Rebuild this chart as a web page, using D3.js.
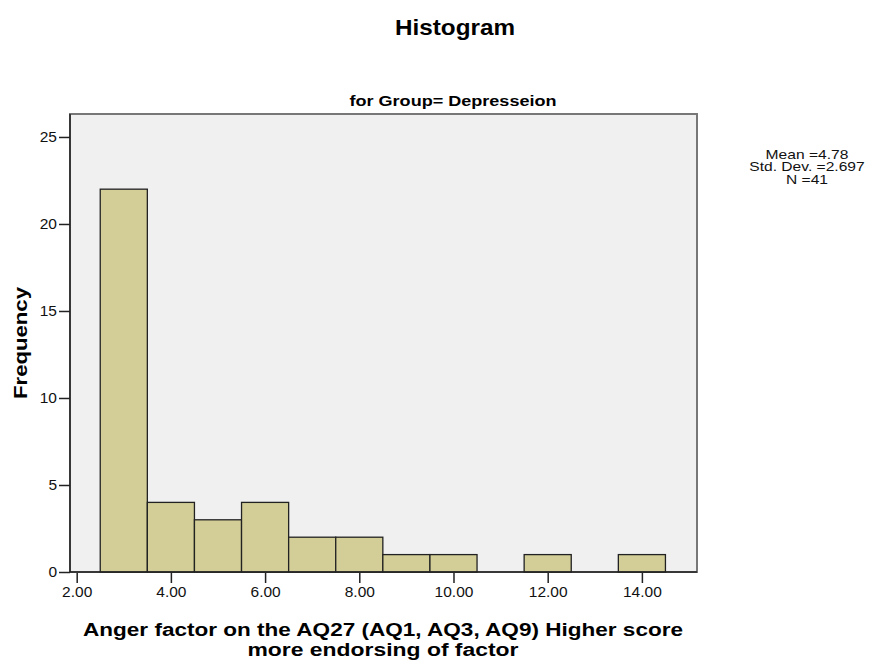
<!DOCTYPE html>
<html><head><meta charset="utf-8">
<script src="https://cdnjs.cloudflare.com/ajax/libs/d3/7.8.5/d3.min.js"></script>
<style>body{margin:0;background:#fff;} text{font-family:"Liberation Sans",Arial,sans-serif;}</style>
</head><body>
<svg id="c" width="872" height="662"></svg>
<script>
const binStarts = [2.5,3.5,4.5,5.5,6.5,7.5,8.5,9.5,10.5,11.5,12.5,13.5];
const frequencies = [22,4,3,4,2,2,1,1,0,1,0,1];
const xTicks = [2,4,6,8,10,12,14];
const yTicks = [0,5,10,15,20,25];
const statsLines = ["Mean =4.78","Std. Dev. =2.697","N =41"];

const svg = d3.select("#c");
const L=70, R=697, T=114, B=572;
const x = d3.scaleLinear().domain([1.858,15.17]).range([L,R]);
const y = d3.scaleLinear().domain([0,26.32]).range([B,T]);

svg.append("rect").attr("x",L).attr("y",T).attr("width",R-L).attr("height",B-T)
  .attr("fill","#f0f0f0").attr("stroke","#777").attr("stroke-width",2);

const bins = frequencies.map((f,i)=>({s:binStarts[i],f})).filter(d=>d.f>0);
svg.append("g").selectAll("rect").data(bins)
  .join("rect")
  .attr("x",d=>x(d.s)).attr("y",d=>y(d.f))
  .attr("width",d=>x(d.s+1)-x(d.s)).attr("height",d=>y(0)-y(d.f))
  .attr("fill","#d3ce98").attr("stroke","#222").attr("stroke-width",1.3);

svg.append("line").attr("x1",L).attr("x2",L).attr("y1",T).attr("y2",B).attr("stroke","#222").attr("stroke-width",1.5);
svg.append("line").attr("x1",L).attr("x2",R).attr("y1",B).attr("y2",B).attr("stroke","#222").attr("stroke-width",1.5);

const yAxis = svg.append("g").attr("transform",`translate(${L},0)`)
  .call(d3.axisLeft(y).tickValues(yTicks).tickSize(11).tickPadding(2).tickFormat(d3.format("d")));
yAxis.attr("font-size",15.5).attr("font-family","Liberation Sans, Arial, sans-serif");
yAxis.select(".domain").remove();
yAxis.selectAll("line").attr("stroke","#222").attr("stroke-width",1.5);
yAxis.selectAll("text").attr("fill","#111");

const xAxis = svg.append("g").attr("transform",`translate(0,${B+1})`)
  .call(d3.axisBottom(x).tickValues(xTicks).tickSize(10).tickPadding(3).tickFormat(d3.format(".2f")));
xAxis.attr("font-size",15.5).attr("font-family","Liberation Sans, Arial, sans-serif");
xAxis.select(".domain").remove();
xAxis.selectAll("line").attr("stroke","#222").attr("stroke-width",1.5);
xAxis.selectAll("text").attr("fill","#111");

svg.append("text").attr("x",455).attr("y",35).attr("text-anchor","middle")
  .attr("font-size","22px").attr("font-weight","bold")
  .attr("textLength",120).attr("lengthAdjust","spacingAndGlyphs").text("Histogram");
svg.append("text").attr("x",453).attr("y",106).attr("text-anchor","middle")
  .attr("font-size","15px").attr("font-weight","bold")
  .attr("textLength",207).attr("lengthAdjust","spacingAndGlyphs").text("for Group= Depresseion");

svg.append("text").attr("transform","translate(27,343) rotate(-90)").attr("text-anchor","middle")
  .attr("font-size","19px").attr("font-weight","bold")
  .attr("textLength",112).attr("lengthAdjust","spacingAndGlyphs").text("Frequency");

svg.append("text").attr("x",383).attr("y",636).attr("text-anchor","middle")
  .attr("font-size","18px").attr("font-weight","bold")
  .attr("textLength",600).attr("lengthAdjust","spacingAndGlyphs")
  .text("Anger factor on the AQ27 (AQ1, AQ3, AQ9) Higher score");
svg.append("text").attr("x",383).attr("y",656).attr("text-anchor","middle")
  .attr("font-size","18px").attr("font-weight","bold")
  .attr("textLength",271).attr("lengthAdjust","spacingAndGlyphs")
  .text("more endorsing of factor");

svg.append("g").attr("transform","translate(807,0) scale(1.3,1)")
  .selectAll("text").data(statsLines).join("text")
  .attr("x",0).attr("y",(d,i)=>159+i*12.5).attr("text-anchor","middle")
  .attr("font-size","12px").attr("fill","#111").text(d=>d);
</script>
</body></html>
